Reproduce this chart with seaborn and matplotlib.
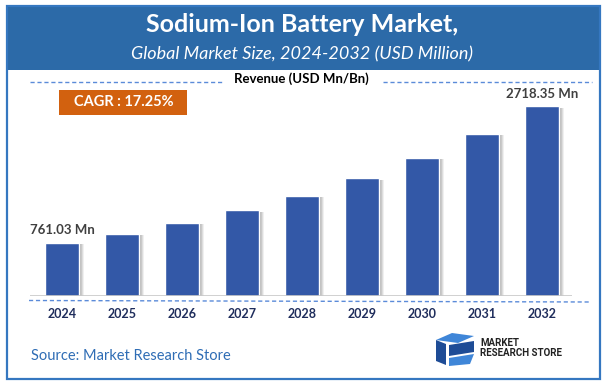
import matplotlib
matplotlib.use("Agg")
import matplotlib.pyplot as plt
import matplotlib.patheffects as pe
from matplotlib.patches import Rectangle, Polygon
from matplotlib.lines import Line2D
import seaborn as sns
import pandas as pd

years = ["2024", "2025", "2026", "2027", "2028", "2029", "2030", "2031", "2032"]
revenue = [761.03, 892.3, 1046.2, 1226.7, 1438.3, 1686.4, 1977.3, 2318.4, 2718.35]
bar_labels = ["761.03 Mn", "", "", "", "", "", "", "", "2718.35 Mn"]
title = "Sodium-Ion Battery Market,"
subtitle = "Global Market Size, 2024-2032 (USD Million)"
axis_caption = "Revenue (USD Mn/Bn)"
cagr_text = "CAGR : 17.25%"
source_text = "Source: Market Research Store"

sns.set_theme(style="white")
plt.rcParams["font.family"] = ["Lato", "DejaVu Sans"]

W, H = 607, 386
fig = plt.figure(figsize=(W / 100, H / 100), dpi=100)
fig.patch.set_facecolor("white")

def fx(x):
    return x / W

def fy(y):
    return 1 - y / H

# header band and border
fig.patches.append(Rectangle((fx(7), fy(70)), fx(593), 63 / H, transform=fig.transFigure,
                             facecolor="#2C6AA8", edgecolor="none", zorder=0))
fig.patches.append(Rectangle((fx(6.5), fy(378.5)), fx(593.5), 373 / H, transform=fig.transFigure,
                             facecolor="none", edgecolor="#3577C0", linewidth=1.6, zorder=5))

fig.text(fx(302), fy(25), title, color="white", fontsize=18, fontweight="bold",
         ha="center", va="center")
fig.text(fx(302), fy(54), subtitle, color="white", fontsize=13, style="italic",
         ha="center", va="center")

# revenue caption with dashed lines
fig.text(fx(301), fy(79), axis_caption, color="black", fontsize=9.5, fontweight="bold",
         ha="center", va="center")
dash_col = "#5B8BD9"
fig.lines.append(Line2D([fx(30), fx(223)], [fy(82), fy(82)], transform=fig.transFigure,
                        color=dash_col, lw=1, linestyle=(0, (3, 2))))
fig.lines.append(Line2D([fx(383), fx(592)], [fy(82), fy(82)], transform=fig.transFigure,
                        color=dash_col, lw=1, linestyle=(0, (3, 2))))
fig.lines.append(Line2D([fx(29), fx(591)], [fy(300.5), fy(302)], transform=fig.transFigure,
                        color=dash_col, lw=1, linestyle=(0, (3, 2))))

# CAGR box
fig.patches.append(Rectangle((fx(59), fy(115)), fx(128), 25 / H, transform=fig.transFigure,
                             facecolor="#D2610F", edgecolor="none"))
fig.text(fx(124), fy(102.5), cagr_text, color="white", fontsize=10.5, fontweight="bold",
         ha="center", va="center")

# chart axes
ax = fig.add_axes([fx(30), fy(296), fx(542), (296 - 90) / H])
df = pd.DataFrame({"year": years, "revenue": revenue})
sns.barplot(data=df, x="year", y="revenue", color="#3358A7", saturation=1, width=0.567, ax=ax)
shadow = [pe.SimplePatchShadow(offset=(o, -0.8), shadow_rgbFace="#6f6f6f", alpha=a)
          for o, a in [(3.6, 0.10), (2.9, 0.14), (2.2, 0.18), (1.5, 0.22)]]
for p in ax.patches:
    p.set_path_effects(shadow + [pe.Normal()])
ax.bar_label(ax.containers[0], labels=bar_labels, padding=5, fontsize=9.5, fontweight="bold",
             color="#404040")
ax.set_xlim(-0.533, 8.5)
ax.set_ylim(0, 2955)
ax.axhline(0, color="#c8c8c8", lw=1.2)
for s in ax.spines.values():
    s.set_visible(False)
ax.set_yticks([])
ax.set_xlabel("")
ax.set_ylabel("")
ax.tick_params(axis="x", length=0, pad=9)
for t in ax.get_xticklabels():
    t.set_fontweight("bold")
    t.set_fontsize(9)
    t.set_color("#1F2D5C")
ax.patch.set_alpha(0)

# source
fig.text(fx(31), fy(356), source_text, color="#2F6DB5", fontsize=10.5, ha="left", va="center")

# logo
dark = "#1E4C96"
light = "#3F86D8"
polys = [
    ([(436, 340), (452, 333), (474, 336), (458, 343)], light),
    ([(436, 340), (446, 344), (446, 365), (436, 361)], dark),
    ([(449, 345), (474, 341), (474, 352), (449, 356)], dark),
    ([(449, 358), (474, 354), (470, 364), (449, 366)], light),
]
for pts, col in polys:
    fig.patches.append(Polygon([(fx(x), fy(y)) for x, y in pts], closed=True,
                               transform=fig.transFigure, facecolor=col, edgecolor="none"))
fig.text(fx(480), fy(343), "MARKET", color="#222222", fontsize=7, fontweight="bold",
         ha="left", va="center", family=["Roboto", "DejaVu Sans"])
fig.text(fx(480), fy(352.5), "RESEARCH STORE", color="#222222", fontsize=7, fontweight="bold",
         ha="left", va="center", family=["Roboto", "DejaVu Sans"])

fig.savefig("out.png", dpi=100)
